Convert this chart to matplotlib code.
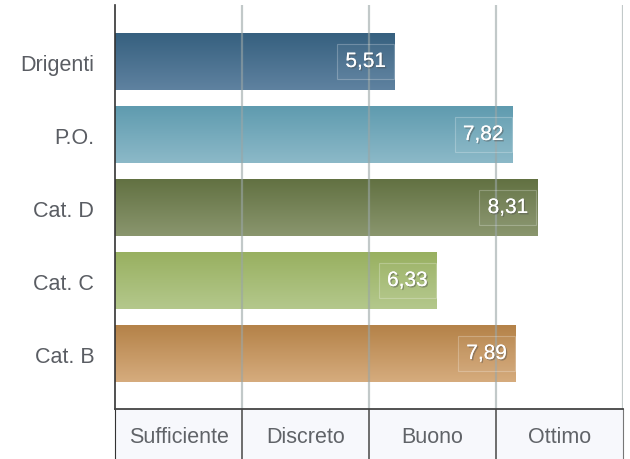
import numpy as np
import matplotlib.pyplot as plt
import matplotlib.patheffects as pe
from matplotlib.colors import LinearSegmentedColormap

plt.rcParams['font.family'] = ['Liberation Sans', 'DejaVu Sans']

# data
categories = ["Drigenti", "P.O.", "Cat. D", "Cat. C", "Cat. B"]
values = [5.51, 7.82, 8.31, 6.33, 7.89]
value_labels = ["5,51", "7,82", "8,31", "6,33", "7,89"]
bands = ["Sufficiente", "Discreto", "Buono", "Ottimo"]
band_edges = [0, 2.5, 5, 7.5, 10]

# top / bottom colours of the gradients
colors_top = ["#36607f", "#5f9baf", "#627142", "#98b060", "#b48248"]
colors_bottom = ["#5f82a0", "#8cb9c8", "#8a966e", "#b4c88c", "#d6ac7e"]

fig = plt.figure(figsize=(6.3, 4.6), dpi=100)
ax = fig.add_axes([115 / 630, 1 - 410 / 460, 508 / 630, 404 / 460])

y = np.arange(len(categories))
bars = ax.barh(y, values, height=0.78, color="none", edgecolor="none")

grad = np.linspace(0, 1, 256).reshape(-1, 1)
for bar, c0, c1 in zip(bars, colors_top, colors_bottom):
    cmap = LinearSegmentedColormap.from_list("g", [c0, c1])
    x0, y0 = bar.get_x(), bar.get_y()
    w, h = bar.get_width(), bar.get_height()
    # y axis is inverted, so row 0 sits at the top of the bar
    im = ax.imshow(grad, cmap=cmap, aspect="auto", extent=[x0, x0 + w, y0 + h, y0],
                   origin="upper", zorder=1)
    im.set_clip_path(bar)

ax.set_xlim(0, 10)
ax.set_ylim(4.76, -0.774)

# gridlines over the bars
for xv in band_edges[1:]:
    ax.axvline(xv, color="#9aa6a6", alpha=0.6, lw=1.6, zorder=3)

for i, (v, lab) in enumerate(zip(values, value_labels)):
    ax.annotate(lab, (v, i), xytext=(-9, 0), textcoords="offset pixels",
                ha="right", va="center", fontsize=15, color="white", zorder=5,
                bbox=dict(boxstyle="square,pad=0.4", fc=(1, 1, 1, 0.04),
                          ec=(1, 1, 1, 0.25), lw=0.8),
                path_effects=[pe.withSimplePatchShadow(offset=(1, -1), alpha=0.45),
                              pe.Normal()])

ax.set_yticks(y)
ax.set_yticklabels(categories, fontsize=15.5, color="#5a5d63")
ax.tick_params(axis="y", length=0, pad=15)
ax.set_xticks([])
for s in ["top", "right", "bottom"]:
    ax.spines[s].set_visible(False)
ax.spines["left"].set_color("#333333")
ax.spines["left"].set_linewidth(1.2)

# category band table under the chart
tab = fig.add_axes([115 / 630, 0, 508 / 630, 50 / 460], facecolor="#f7f8fc")
tab.set_xlim(0, 10)
tab.set_ylim(0, 1)
for xv in band_edges[1:-1]:
    tab.axvline(xv, color="#555555", lw=1.2)
for i, b in enumerate(bands):
    mid = (band_edges[i] + band_edges[i + 1]) / 2
    tab.text(mid, 0.45, b, ha="center", va="center", fontsize=15.5, color="#606368")
tab.set_xticks([])
tab.set_yticks([])
tab.spines["top"].set_color("#444444")
tab.spines["top"].set_linewidth(1.3)
tab.spines["left"].set_color("#333333")
tab.spines["right"].set_color("#777777")
tab.spines["bottom"].set_visible(False)

fig.savefig("out.png", dpi=100)
